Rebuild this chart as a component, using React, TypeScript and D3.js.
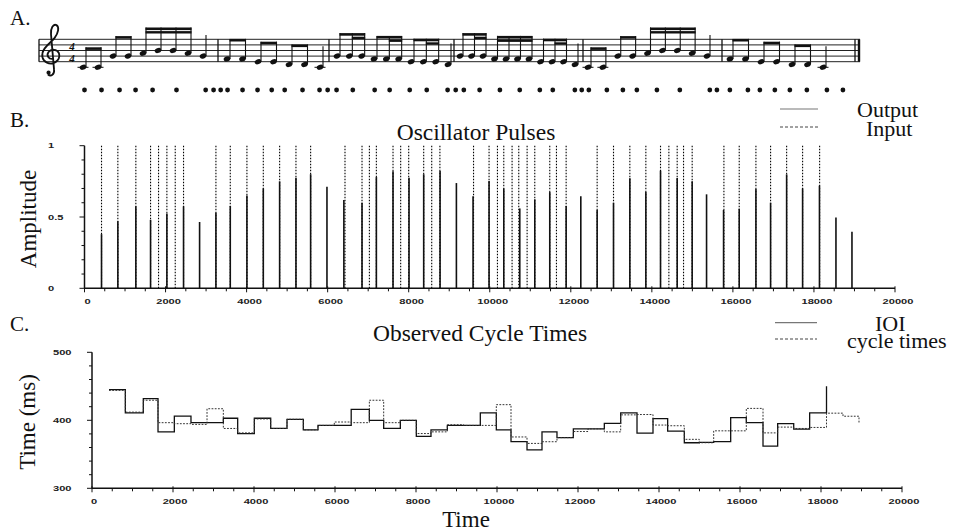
import React, { useEffect, useRef } from 'react';
import * as d3 from 'd3';

// ---------- DATA ----------
// Panel B: oscillator output pulses (time in ms, amplitude)
const outputTimes = [420, 823, 1267, 1630, 2033, 2444, 2840, 3243, 3597, 4008, 4412, 4815, 5218, 5580, 5983, 6400,
  6848, 7202, 7613, 8008, 8370, 8774, 9177, 9588, 9983, 10346, 10741, 11111, 11481, 11885, 12247, 12650,
  13054, 13457, 13852, 14214, 14625, 14995, 15350, 15770, 16156, 16568, 16930, 17326, 17720, 18136, 18543, 18938];
const outputAmps = [0.38, 0.47, 0.575, 0.48, 0.525, 0.575, 0.465, 0.53, 0.577, 0.65, 0.70, 0.75, 0.775, 0.80, 0.713, 0.62,
  0.60, 0.78, 0.82, 0.775, 0.80, 0.822, 0.738, 0.645, 0.753, 0.70, 0.56, 0.624, 0.675, 0.577, 0.645, 0.549,
  0.60, 0.771, 0.675, 0.825, 0.773, 0.75, 0.659, 0.549, 0.558, 0.696, 0.60, 0.799, 0.70, 0.72, 0.497, 0.397];
// Panel B: input (note onset) pulses
const inputTimes = [420, 823, 1267, 1630, 1827, 2033, 2239, 2444, 3243, 3597, 4008, 4412, 4815, 5218, 5580,
  6428, 6848, 7030, 7202, 7613, 7802, 8000, 8370, 8568, 8770, 9600, 9983, 10190, 10346, 10551, 10716, 10922,
  11111, 11481, 11646, 11885, 12650, 13054, 13457, 13852, 14214, 14420, 14625, 14782, 14995, 15778, 16156,
  16568, 16930, 17326, 17720, 18140];
// Panel A: onset dots under the score
const dotTimes = [0, 420, 865, 1260, 1680, 2270, 2990, 3185, 3360, 3530, 3900, 4270, 4620, 4940, 5380, 5800, 6000,
  6220, 6620, 7160, 7530, 8025, 8445, 8960, 9160, 9360, 9750, 10250, 10740, 11235, 11555, 12100, 12270, 12445,
  12890, 13285, 13630, 14125, 14690, 15430, 15605, 15925, 16370, 16665, 17035, 17405, 17825, 18320, 18715];
// Panel C: step values starting at each output pulse time
const ioiValues = [445, 411, 432, 383, 406, 396.5, 396.5, 403, 380.5, 403, 388, 401.5, 386, 392.5, 392.5, 416,
  400, 388, 400, 376.5, 386, 392.5, 392.5, 411, 386, 368.5, 356.5, 383, 374.5, 387.5, 387.5, 395.5, 411, 381,
  402.5, 384, 367, 367.5, 368.5, 404, 396.5, 362, 395, 387, 411, 450];
const cycleValues = [444, 412, 429.5, 396.5, 395, 394, 417, 388, 381.5, 402, 388, 401.5, 386, 392.5, 397.5, 396.5,
  429.5, 396.5, 400, 380.5, 383, 393.5, 392.5, 392.5, 423, 375.5, 366, 368.5, 374.5, 383.5, 387.5, 383, 408,
  408.5, 393, 392, 372, 367, 384.5, 384.5, 417.5, 381.5, 390, 388, 389.5, 410.5, 406, 396];
// Tick values
const xTicks = [0, 2000, 4000, 6000, 8000, 10000, 12000, 14000, 16000, 18000, 20000];
const ampTicks = [0, 0.5, 1];
const msTicks = [300, 400, 500];
// Score: measures -> beam groups -> [staff step (0 = bottom line E4), duration in 16ths]
const scoreMeasures: number[][][][] = [
  [[[-2, 2], [-2, 2]], [[2, 2], [2, 2]], [[3, 1], [4, 1], [4, 1], [3, 1]], [[2, 4]]],
  [[[1, 2], [1, 2]], [[0, 2], [0, 2]], [[-1, 2], [-1, 2]], [[-2, 4]]],
  [[[2, 2], [2, 1], [2, 1]], [[1, 2], [1, 1], [1, 1]], [[0, 2], [0, 1], [0, 1]], [[-1, 4]]],
  [[[2, 2], [2, 1], [2, 1]], [[1, 1], [1, 1], [1, 1], [1, 1]], [[0, 2], [0, 1], [0, 1]], [[-1, 4]]],
  [[[-2, 2], [-2, 2]], [[2, 2], [2, 2]], [[3, 1], [4, 1], [4, 1], [3, 1]], [[2, 4]]],
  [[[1, 2], [1, 2]], [[0, 2], [0, 2]], [[-1, 2], [-1, 2]], [[-2, 4]]],
];

const serif = '"Liberation Serif", "Times New Roman", serif';
const sans = '"Liberation Sans", Arial, sans-serif';

function draw(svg: d3.Selection<SVGSVGElement, unknown, null, undefined>) {
  svg.append('rect').attr('width', 958).attr('height', 531).attr('fill', '#fff');

  const text = (x: number, y: number, s: string, size: number, anchor = 'start', font = serif) =>
    svg.append('text').attr('x', x).attr('y', y).attr('font-family', font).attr('font-size', size)
      .attr('text-anchor', anchor).attr('fill', '#111').text(s);

  const tickLabel = (x: number, y: number, s: string, anchor = 'middle') =>
    svg.append('text').attr('transform', `translate(${x},${y}) scale(1.5,1)`)
      .attr('font-family', sans).attr('font-size', 7.4).attr('font-weight', 'bold')
      .attr('text-anchor', anchor).attr('fill', '#222').text(s);

  // ---------- Panel labels ----------
  text(10, 25, 'A.', 21);
  text(10, 127, 'B.', 21);
  text(10, 331, 'C.', 21);

  // ---------- Panel A: score ----------
  const staffTop = 39.3, sp = 5.6;
  const staffX0 = 39, staffX1 = 860;
  const stepY = (s: number) => staffTop + 4 * sp - s * (sp / 2);
  const gA = svg.append('g');
  for (let i = 0; i < 5; i++) {
    gA.append('line').attr('x1', staffX0).attr('x2', staffX1)
      .attr('y1', staffTop + i * sp).attr('y2', staffTop + i * sp)
      .attr('stroke', '#222').attr('stroke-width', 1);
  }
  const barXs = [39, 218, 329, 454, 583, 722, 855];
  barXs.forEach(x => gA.append('line').attr('x1', x).attr('x2', x).attr('y1', staffTop).attr('y2', staffTop + 4 * sp)
    .attr('stroke', '#111').attr('stroke-width', 1.3));
  gA.append('line').attr('x1', 859).attr('x2', 859).attr('y1', staffTop).attr('y2', staffTop + 4 * sp)
    .attr('stroke', '#111').attr('stroke-width', 2.4);
  // treble clef
  const clef = gA.append('g').attr('transform', 'translate(51,55) scale(1.22) translate(-50,-55)');
  clef.append('path')
    .attr('d', 'M52,58 C48,59 46,55 48,52.5 C50,50 55,50 56.5,53.5 C58,58 54,62 50,62 C45,62 42,58 43,53.5 C44,48 50,45 53,41 C56,37 57,32 54.5,30.5 C52,29 49.5,33 50,38 L52.5,67 C53,71 50,73 47.5,71')
    .attr('fill', 'none').attr('stroke', '#111').attr('stroke-width', 1.5);
  clef.append('circle').attr('cx', 48).attr('cy', 69.5).attr('r', 1.7).attr('fill', '#111');
  // time signature
  gA.append('text').attr('x', 72).attr('y', staffTop + 2 * sp - 0.8).attr('font-family', serif).attr('font-size', 11)
    .attr('font-weight', 'bold').attr('font-style', 'italic').attr('text-anchor', 'middle').attr('fill', '#111').text('4');
  gA.append('text').attr('x', 72).attr('y', staffTop + 4 * sp).attr('font-family', serif).attr('font-size', 11)
    .attr('font-weight', 'bold').attr('font-style', 'italic').attr('text-anchor', 'middle').attr('fill', '#111').text('4');

  const measureRanges = [[83, 203], [227, 320], [337, 448], [460, 575], [588, 707], [730, 823]];
  scoreMeasures.forEach((groups, mi) => {
    const flat = groups.flat();
    const nx = d3.scaleLinear().domain([0, flat.length - 1]).range(measureRanges[mi]);
    let idx = 0;
    groups.forEach(group => {
      const notes = group.map(([step, dur]) => ({ x: nx(idx++), y: stepY(step), step, dur }));
      notes.forEach(n => {
        if (n.step <= -2) {
          gA.append('line').attr('x1', n.x - 5.5).attr('x2', n.x + 5.5).attr('y1', stepY(-2)).attr('y2', stepY(-2))
            .attr('stroke', '#111').attr('stroke-width', 1);
        }
        gA.append('ellipse').attr('cx', n.x).attr('cy', n.y).attr('rx', 3.4).attr('ry', 2.5)
          .attr('transform', `rotate(-22,${n.x},${n.y})`).attr('fill', '#111');
      });
      const has16 = notes.some(n => n.dur === 1);
      if (notes.length === 1) {
        const n = notes[0];
        gA.append('line').attr('x1', n.x + 3).attr('x2', n.x + 3).attr('y1', n.y).attr('y2', n.y - 21)
          .attr('stroke', '#111').attr('stroke-width', 1.1);
      } else {
        const beamY = d3.min(notes, n => n.y)! - (has16 ? 23 : 20);
        notes.forEach(n => gA.append('line').attr('x1', n.x + 3).attr('x2', n.x + 3).attr('y1', n.y).attr('y2', beamY)
          .attr('stroke', '#111').attr('stroke-width', 1.1));
        const x0 = notes[0].x + 3, x1 = notes[notes.length - 1].x + 3;
        gA.append('rect').attr('x', x0 - 0.5).attr('y', beamY).attr('width', x1 - x0 + 1).attr('height', 2.6).attr('fill', '#111');
        // secondary beams for 16th runs
        let i = 0;
        while (i < notes.length) {
          if (notes[i].dur === 1) {
            let j = i;
            while (j + 1 < notes.length && notes[j + 1].dur === 1) j++;
            const a = notes[i].x + 3, b = j > i ? notes[j].x + 3 : notes[i].x + 3 - 5;
            gA.append('rect').attr('x', Math.min(a, b) - 0.5).attr('y', beamY + 3.6)
              .attr('width', Math.abs(b - a) + 1).attr('height', 2.4).attr('fill', '#111');
            i = j + 1;
          } else i++;
        }
      }
    });
  });

  // ---------- shared x scale ----------
  const xB = d3.scaleLinear().domain([0, 20000]).range([84.5, 895]);
  // onset dots
  svg.append('g').selectAll('circle').data(dotTimes).join('circle')
    .attr('cx', d => xB(d)).attr('cy', 90).attr('r', 2.4).attr('fill', '#111');

  // ---------- Panel B ----------
  const yB = d3.scaleLinear().domain([0, 1]).range([288.3, 145.7]);
  const gB = svg.append('g');
  gB.selectAll('line.inp').data(inputTimes).join('line').attr('class', 'inp')
    .attr('x1', d => xB(d)).attr('x2', d => xB(d)).attr('y1', yB(0)).attr('y2', yB(1))
    .attr('stroke', '#000').attr('stroke-width', 1.1).attr('stroke-dasharray', '1.6,1.4');
  gB.selectAll('line.out').data(outputTimes).join('line').attr('class', 'out')
    .attr('x1', d => xB(d)).attr('x2', d => xB(d)).attr('y1', yB(0)).attr('y2', (d, i) => yB(outputAmps[i]))
    .attr('stroke', '#111').attr('stroke-width', 1.6);
  // axes
  gB.append('line').attr('x1', xB(0)).attr('x2', xB(0)).attr('y1', yB(0)).attr('y2', yB(1)).attr('stroke', '#111').attr('stroke-width', 1.5);
  gB.append('line').attr('x1', xB(0)).attr('x2', xB(20000)).attr('y1', yB(0)).attr('y2', yB(0)).attr('stroke', '#111').attr('stroke-width', 1.5);
  d3.range(0, 1.0001, 0.1).forEach(v => {
    const major = ampTicks.some(t => Math.abs(t - v) < 1e-6);
    gB.append('line').attr('x1', xB(0) - (major ? 5 : 3)).attr('x2', xB(0)).attr('y1', yB(v)).attr('y2', yB(v))
      .attr('stroke', '#111').attr('stroke-width', 1);
  });
  d3.range(0, 20001, 500).forEach(v => {
    const major = v % 2000 === 0;
    gB.append('line').attr('x1', xB(v)).attr('x2', xB(v)).attr('y1', yB(0) - (major ? 2 : 0)).attr('y2', yB(0) + (major ? 4 : 3))
      .attr('stroke', '#111').attr('stroke-width', 1);
  });
  xTicks.forEach(v => tickLabel(xB(v) + 3, 303.5, String(v)));
  ampTicks.forEach(v => tickLabel(48, yB(v) + 2.5, String(v), 'start'));
  text(476, 140, 'Oscillator Pulses', 23.5, 'middle');
  svg.append('text').attr('transform', `translate(36,219) rotate(-90)`).attr('font-family', serif).attr('font-size', 23)
    .attr('text-anchor', 'middle').attr('fill', '#111').text('Amplitude');
  // legend B
  gB.append('line').attr('x1', 780).attr('x2', 818).attr('y1', 109).attr('y2', 109).attr('stroke', '#777').attr('stroke-width', 1.2);
  gB.append('line').attr('x1', 780).attr('x2', 818).attr('y1', 127).attr('y2', 127).attr('stroke', '#444').attr('stroke-width', 1).attr('stroke-dasharray', '3,2');
  text(857, 117, 'Output', 22);
  text(866, 136, 'Input', 22);

  // ---------- Panel C ----------
  const xC = d3.scaleLinear().domain([0, 20000]).range([92, 902]);
  const yC = d3.scaleLinear().domain([300, 500]).range([488.3, 352.3]);
  const gC = svg.append('g');
  const step = d3.line<[number, number]>().x(d => xC(d[0])).y(d => yC(d[1])).curve(d3.curveStepAfter);
  const ioiPts: [number, number][] = ioiValues.map((v, i) => [outputTimes[i], v]);
  const cyclePts: [number, number][] = cycleValues.map((v, i) => [outputTimes[i], v]);
  gC.append('path').attr('d', step(ioiPts)!).attr('fill', 'none').attr('stroke', '#111').attr('stroke-width', 1.3);
  gC.append('path').attr('d', step(cyclePts)!).attr('fill', 'none').attr('stroke', '#333').attr('stroke-width', 1).attr('stroke-dasharray', '1.8,1.4');
  gC.append('line').attr('x1', xC(0)).attr('x2', xC(0)).attr('y1', yC(300)).attr('y2', yC(500)).attr('stroke', '#111').attr('stroke-width', 1.5);
  gC.append('line').attr('x1', xC(0)).attr('x2', xC(20000)).attr('y1', yC(300)).attr('y2', yC(300)).attr('stroke', '#111').attr('stroke-width', 1.5);
  d3.range(300, 500.1, 20).forEach(v => {
    const major = msTicks.includes(v);
    gC.append('line').attr('x1', xC(0) - (major ? 5 : 3)).attr('x2', xC(0)).attr('y1', yC(v)).attr('y2', yC(v))
      .attr('stroke', '#111').attr('stroke-width', 1);
  });
  d3.range(0, 20001, 500).forEach(v => {
    const major = v % 2000 === 0;
    gC.append('line').attr('x1', xC(v)).attr('x2', xC(v)).attr('y1', yC(300) - (major ? 2 : 0)).attr('y2', yC(300) + (major ? 4 : 3))
      .attr('stroke', '#111').attr('stroke-width', 1);
  });
  xTicks.forEach(v => tickLabel(xC(v) + 2, 503.5, String(v)));
  msTicks.forEach(v => tickLabel(53, yC(v) + 2.5, String(v), 'start'));
  text(480, 341, 'Observed Cycle Times', 23.5, 'middle');
  text(466, 527, 'Time', 23, 'middle');
  svg.append('text').attr('transform', `translate(35,422) rotate(-90)`).attr('font-family', serif).attr('font-size', 23)
    .attr('text-anchor', 'middle').attr('fill', '#111').text('Time (ms)');
  gC.append('line').attr('x1', 775).attr('x2', 817).attr('y1', 322.7).attr('y2', 322.7).attr('stroke', '#777').attr('stroke-width', 1.2);
  gC.append('line').attr('x1', 775).attr('x2', 817).attr('y1', 339).attr('y2', 339).attr('stroke', '#444').attr('stroke-width', 1).attr('stroke-dasharray', '3,2');
  text(875, 330.5, 'IOI', 22);
  text(847, 347.5, 'cycle times', 22);
}

export default function App() {
  const ref = useRef<SVGSVGElement>(null);
  useEffect(() => {
    if (!ref.current) return;
    const svg = d3.select(ref.current);
    svg.selectAll('*').remove();
    draw(svg as any);
  }, []);
  return (
    <svg ref={ref} width={958} height={531}
      style={{ position: 'absolute', left: 0, top: 0, background: '#fff' }} />
  );
}
